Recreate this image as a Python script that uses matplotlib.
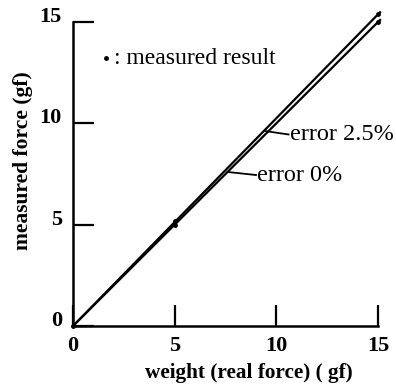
import matplotlib
matplotlib.use("Agg")
import matplotlib.pyplot as plt
import numpy as np

# data
weight = [0, 15.1]
line_0 = [0, 15.1]          # error 0%
line_25 = [0, 15.48]        # error 2.5%
meas_x = [0, 5, 5, 15, 15]
meas_y = [0, 5.0, 5.2, 15.0, 15.4]
xticks = [0, 5, 10, 15]
yticks = [0, 5, 10, 15]

plt.rcParams['font.family'] = ['Liberation Serif', 'DejaVu Serif']

fig = plt.figure(figsize=(3.96, 3.84), dpi=100)
ax = fig.add_axes([73 / 396, 1 - 326 / 384, 305 / 396, 304 / 384])

ax.plot(weight, line_0, color='black', lw=1.6, clip_on=False)
ax.plot(weight, line_25, color='black', lw=1.6, clip_on=False)
ax.plot(meas_x, meas_y, 'o', color='black', ms=2.5, clip_on=False)

ax.set_xlim(0, 15)
ax.set_ylim(0, 15)
ax.set_xticks(xticks)
ax.set_yticks(yticks)
ax.tick_params(direction='in', length=15, width=1.6, labelsize=16)
ax.tick_params(axis='y', pad=8)
ax.tick_params(axis='x', pad=7)
for s in ['top', 'right']:
    ax.spines[s].set_visible(False)
for s in ['left', 'bottom']:
    ax.spines[s].set_linewidth(1.8)
for lbl in ax.get_xticklabels() + ax.get_yticklabels():
    lbl.set_fontweight('bold')
for lbl in ax.get_yticklabels():
    lbl.set_va('baseline')

ax.set_xlabel('weight (real force) ( gf)', fontsize=15.3, fontweight='bold')
ax.set_ylabel('measured force (gf)', fontsize=15.5, fontweight='bold')
ax.xaxis.set_label_coords((249 - 73) / 305, (326 - 363) / 304)
ax.yaxis.set_label_coords((33 - 73) / 305, (326 - 161) / 304)

# annotations
ax.plot([1.6], [13.2], 'o', color='black', ms=2.5, clip_on=False)
ax.text(2.0, 13.2, ': measured result', fontsize=17, va='center')

ax.plot([9.45, 10.6], [9.62, 9.45], color='black', lw=1.3)
ax.text(10.65, 9.45, 'error 2.5%', fontsize=17.5, va='center')
ax.plot([7.6, 9.0], [7.6, 7.45], color='black', lw=1.3)
ax.text(9.05, 7.45, 'error 0%', fontsize=17.5, va='center')

fig.savefig('out.png', dpi=100)
